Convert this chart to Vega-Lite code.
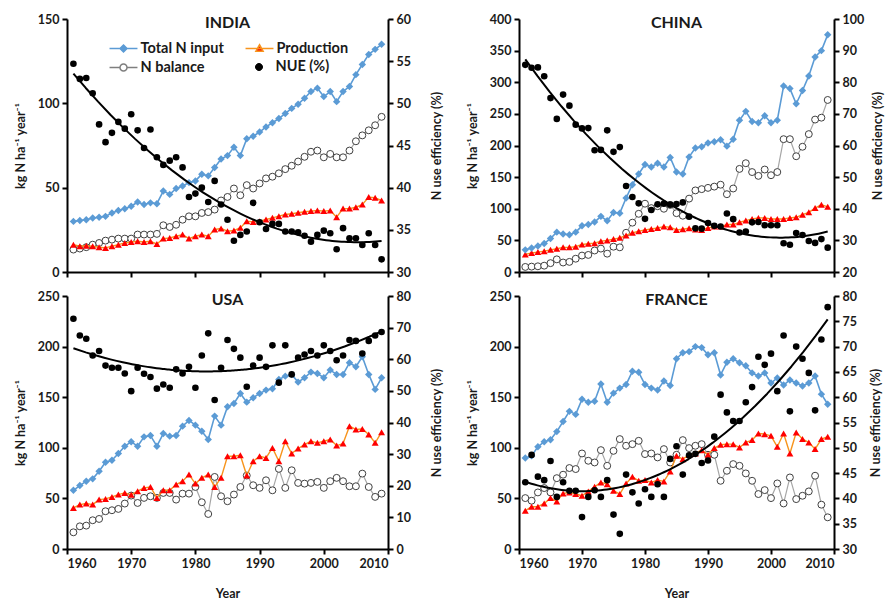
{
"$schema": "https://vega.github.io/schema/vega-lite/v6.json",
"padding": {"left": 14, "top": 13, "right": 2, "bottom": 0},
"datasets": {
"india": [
{"year":1961,"tin":30,"prod":16.2,"bal":13.3,"nue":54.7},{"year":1962,"tin":30.5,"prod":15.3,"bal":13.9,"nue":52.9},{"year":1963,"tin":31,"prod":15.6,"bal":14.7,"nue":53},{"year":1964,"tin":32,"prod":15.3,"bal":16.2,"nue":51.2},{"year":1965,"tin":32.5,"prod":14.7,"bal":17.2,"nue":47.5},{"year":1966,"tin":33,"prod":14.3,"bal":18.6,"nue":45.4},{"year":1967,"tin":35,"prod":15.3,"bal":19.2,"nue":46.5},{"year":1968,"tin":36.5,"prod":16.2,"bal":19.8,"nue":47.8},{"year":1969,"tin":37.5,"prod":17.2,"bal":19.8,"nue":47},{"year":1970,"tin":39,"prod":17.8,"bal":19.8,"nue":48.7},
{"year":1971,"tin":41.5,"prod":18.2,"bal":22.2,"nue":46.8},{"year":1972,"tin":40,"prod":17.8,"bal":22.2,"nue":44.7},{"year":1973,"tin":41,"prod":18.2,"bal":22.2,"nue":46.9},{"year":1974,"tin":40.5,"prod":16.6,"bal":22.6,"nue":43.6},{"year":1975,"tin":48,"prod":19.8,"bal":27.7,"nue":42.7},{"year":1976,"tin":46,"prod":20.2,"bal":26.7,"nue":43.2},{"year":1977,"tin":49.5,"prod":21.2,"bal":28,"nue":43.6},{"year":1978,"tin":51,"prod":22.2,"bal":31,"nue":42.4},{"year":1979,"tin":53,"prod":19.8,"bal":33,"nue":38.9},{"year":1980,"tin":54,"prod":21.2,"bal":33,"nue":39.3},
{"year":1981,"tin":58,"prod":22.2,"bal":35,"nue":40},{"year":1982,"tin":57,"prod":21.2,"bal":35.5,"nue":38.3},{"year":1983,"tin":62,"prod":25.2,"bal":37,"nue":40.8},{"year":1984,"tin":67,"prod":25.8,"bal":42.4,"nue":38},{"year":1985,"tin":69,"prod":24.2,"bal":44.5,"nue":36.2},{"year":1986,"tin":74,"prod":24.6,"bal":49.5,"nue":33.7},{"year":1987,"tin":69,"prod":26.2,"bal":45.5,"nue":34.4},{"year":1988,"tin":79,"prod":30.1,"bal":51.5,"nue":34.8},{"year":1989,"tin":80.5,"prod":29.7,"bal":49.5,"nue":38.2},{"year":1990,"tin":83,"prod":30.1,"bal":52.5,"nue":35.9},
{"year":1991,"tin":86,"prod":31.1,"bal":55.5,"nue":35.1},{"year":1992,"tin":88.5,"prod":32.1,"bal":56.5,"nue":35.7},{"year":1993,"tin":91,"prod":33.1,"bal":58.5,"nue":35.7},{"year":1994,"tin":94,"prod":34.1,"bal":61,"nue":34.8},{"year":1995,"tin":97,"prod":34.5,"bal":63,"nue":34.8},{"year":1996,"tin":99.5,"prod":35.1,"bal":65.5,"nue":34.7},{"year":1997,"tin":103,"prod":35.7,"bal":68.3,"nue":34.3},{"year":1998,"tin":107,"prod":36.1,"bal":71.3,"nue":33.6},{"year":1999,"tin":109,"prod":36.5,"bal":72,"nue":34.4},{"year":2000,"tin":104,"prod":36.1,"bal":68,"nue":34.9},
{"year":2001,"tin":107,"prod":36.5,"bal":70,"nue":34.6},{"year":2002,"tin":101,"prod":32.5,"bal":68,"nue":32.7},{"year":2003,"tin":107,"prod":37.6,"bal":68,"nue":35.2},{"year":2004,"tin":110,"prod":37.6,"bal":72,"nue":34},{"year":2005,"tin":117,"prod":38.4,"bal":77.5,"nue":34},{"year":2006,"tin":123,"prod":40,"bal":81,"nue":33.2},{"year":2007,"tin":129,"prod":44.4,"bal":84,"nue":34.6},{"year":2008,"tin":132,"prod":44,"bal":87,"nue":33.2},{"year":2009,"tin":135,"prod":42.4,"bal":92,"nue":31.5}
],
"china": [
{"year":1961,"tin":35,"prod":27.8,"bal":8,"nue":85.5},{"year":1962,"tin":38,"prod":30,"bal":8.5,"nue":84.6},{"year":1963,"tin":41,"prod":31.5,"bal":9,"nue":84.7},{"year":1964,"tin":45,"prod":33,"bal":10,"nue":81.9},{"year":1965,"tin":53,"prod":35,"bal":14,"nue":75},{"year":1966,"tin":63,"prod":36.7,"bal":20,"nue":68.4},{"year":1967,"tin":60,"prod":39,"bal":15,"nue":76.1},{"year":1968,"tin":59,"prod":39,"bal":16,"nue":72.6},{"year":1969,"tin":63,"prod":40,"bal":21,"nue":66.6},{"year":1970,"tin":73,"prod":43.5,"bal":26,"nue":65.4},
{"year":1971,"tin":75,"prod":44.6,"bal":27,"nue":65.5},{"year":1972,"tin":79,"prod":45.6,"bal":34,"nue":58.5},{"year":1973,"tin":88,"prod":48.8,"bal":37,"nue":58.6},{"year":1974,"tin":81,"prod":49.8,"bal":29,"nue":64.8},{"year":1975,"tin":94,"prod":52,"bal":40,"nue":58},{"year":1976,"tin":93,"prod":54,"bal":39,"nue":59.5},{"year":1977,"tin":117,"prod":57.7,"bal":62,"nue":47.2},{"year":1978,"tin":138,"prod":61.9,"bal":78,"nue":43.7},{"year":1979,"tin":155,"prod":64.5,"bal":92,"nue":41.7},{"year":1980,"tin":170,"prod":66.6,"bal":108,"nue":36.8},
{"year":1981,"tin":166,"prod":68,"bal":101,"nue":39.6},{"year":1982,"tin":172,"prod":69.7,"bal":104,"nue":41.4},{"year":1983,"tin":166,"prod":71.8,"bal":100,"nue":41.6},{"year":1984,"tin":181,"prod":70.8,"bal":106,"nue":41.3},{"year":1985,"tin":158,"prod":66.6,"bal":93,"nue":41.5},{"year":1986,"tin":155,"prod":67.6,"bal":89,"nue":42},{"year":1987,"tin":182,"prod":69.2,"bal":116,"nue":37.5},{"year":1988,"tin":196,"prod":67,"bal":129,"nue":33.8},{"year":1989,"tin":198,"prod":66.6,"bal":131,"nue":33.7},{"year":1990,"tin":204,"prod":69.7,"bal":133,"nue":35.5},
{"year":1991,"tin":206,"prod":71.8,"bal":135,"nue":34.6},{"year":1992,"tin":209,"prod":71.8,"bal":138,"nue":34.4},{"year":1993,"tin":199,"prod":75,"bal":123,"nue":38.5},{"year":1994,"tin":210,"prod":75,"bal":132,"nue":36.7},{"year":1995,"tin":240,"prod":78.6,"bal":163,"nue":32.5},{"year":1996,"tin":254,"prod":81.3,"bal":172,"nue":32.8},{"year":1997,"tin":238,"prod":83.9,"bal":158,"nue":35.7},{"year":1998,"tin":236,"prod":85.5,"bal":152,"nue":35.8},{"year":1999,"tin":247,"prod":85.5,"bal":162,"nue":34.8},{"year":2000,"tin":236,"prod":83.9,"bal":153,"nue":34.8},
{"year":2001,"tin":240,"prod":83.9,"bal":158,"nue":34.8},{"year":2002,"tin":294,"prod":83.9,"bal":210,"nue":29.1},{"year":2003,"tin":290,"prod":85.5,"bal":210,"nue":28.6},{"year":2004,"tin":266,"prod":86.5,"bal":183,"nue":32.3},{"year":2005,"tin":287,"prod":90.7,"bal":198,"nue":31.7},{"year":2006,"tin":310,"prod":94.4,"bal":218,"nue":29.8},{"year":2007,"tin":340,"prod":101,"bal":241,"nue":29.2},{"year":2008,"tin":350,"prod":106.4,"bal":244,"nue":30.4},{"year":2009,"tin":375,"prod":103,"bal":272,"nue":27.7}
],
"usa": [
{"year":1961,"tin":58,"prod":40.6,"bal":16.5,"nue":72.8},{"year":1962,"tin":62.7,"prod":43.9,"bal":22.4,"nue":67.5},{"year":1963,"tin":67,"prod":44.9,"bal":23.1,"nue":66.5},{"year":1964,"tin":69.3,"prod":43.9,"bal":28.4,"nue":61.2},{"year":1965,"tin":76.8,"prod":48.8,"bal":29.7,"nue":62.6},{"year":1966,"tin":85.8,"prod":49.5,"bal":37.3,"nue":58},{"year":1967,"tin":87.7,"prod":51.5,"bal":38.3,"nue":57.3},{"year":1968,"tin":94.3,"prod":53.8,"bal":39.6,"nue":57.3},{"year":1969,"tin":101.6,"prod":55.4,"bal":44.9,"nue":55.5},{"year":1970,"tin":105.9,"prod":53.5,"bal":52.8,"nue":49.9},
{"year":1971,"tin":101.6,"prod":57.1,"bal":45.5,"nue":57.3},{"year":1972,"tin":110.8,"prod":60.4,"bal":50.5,"nue":55.4},{"year":1973,"tin":112.1,"prod":61.3,"bal":52.1,"nue":54.4},{"year":1974,"tin":101.6,"prod":50.5,"bal":50.5,"nue":50.7},{"year":1975,"tin":114.1,"prod":58,"bal":55.4,"nue":52},{"year":1976,"tin":111.5,"prod":58,"bal":55.4,"nue":51},{"year":1977,"tin":112.1,"prod":63.7,"bal":48.8,"nue":56.8},{"year":1978,"tin":121.4,"prod":67,"bal":54.7,"nue":55.5},{"year":1979,"tin":127,"prod":73.5,"bal":54.7,"nue":57.6},{"year":1980,"tin":122.4,"prod":64.6,"bal":61.3,"nue":51},
{"year":1981,"tin":116.4,"prod":70.3,"bal":46.2,"nue":61.2},{"year":1982,"tin":108.2,"prod":73.5,"bal":34.6,"nue":68.2},{"year":1983,"tin":131.3,"prod":61.3,"bal":71.2,"nue":47.1},{"year":1984,"tin":122.4,"prod":70.3,"bal":52.1,"nue":57.3},{"year":1985,"tin":140.5,"prod":91.7,"bal":47.2,"nue":66.1},{"year":1986,"tin":143.8,"prod":91.7,"bal":53.8,"nue":63.3},{"year":1987,"tin":153.7,"prod":92.7,"bal":61.3,"nue":60.5},{"year":1988,"tin":145.1,"prod":72.6,"bal":72.6,"nue":51.3},{"year":1989,"tin":149.4,"prod":86.7,"bal":63,"nue":58},{"year":1990,"tin":153.7,"prod":91.7,"bal":60.4,"nue":60.5},
{"year":1991,"tin":157,"prod":90,"bal":67.9,"nue":57.6},{"year":1992,"tin":158.3,"prod":99.9,"bal":58,"nue":64.4},{"year":1993,"tin":167.5,"prod":86.7,"bal":79.2,"nue":52.6},{"year":1994,"tin":170.8,"prod":106.5,"bal":60.4,"nue":64.4},{"year":1995,"tin":172.5,"prod":94.3,"bal":77.8,"nue":55.2},{"year":1996,"tin":164.9,"prod":99.3,"bal":65.3,"nue":60.5},{"year":1997,"tin":169.2,"prod":103.2,"bal":64.6,"nue":61.5},{"year":1998,"tin":174.8,"prod":106.5,"bal":65.3,"nue":62.6},{"year":1999,"tin":173.5,"prod":104.9,"bal":66.3,"nue":61.2},{"year":2000,"tin":169.2,"prod":106.5,"bal":60.4,"nue":64.4},
{"year":2001,"tin":176.8,"prod":108.2,"bal":67,"nue":62.6},{"year":2002,"tin":172.5,"prod":102.2,"bal":70.3,"nue":59.7},{"year":2003,"tin":172.5,"prod":104.2,"bal":67,"nue":61.2},{"year":2004,"tin":184,"prod":121.4,"bal":62,"nue":66.1},{"year":2005,"tin":180.1,"prod":118.1,"bal":62,"nue":65.8},{"year":2006,"tin":190,"prod":118.7,"bal":74.5,"nue":61.8},{"year":2007,"tin":172.5,"prod":113.1,"bal":61.3,"nue":65.8},{"year":2008,"tin":157.7,"prod":104.9,"bal":51.5,"nue":67.5},{"year":2009,"tin":169.2,"prod":115.4,"bal":54.7,"nue":68.6}
],
"france": [
{"year":1961,"tin":90,"prod":37.8,"bal":50.3,"nue":43.2},{"year":1962,"tin":92,"prod":41.8,"bal":47.7,"nue":48.6},{"year":1963,"tin":101,"prod":41.8,"bal":55.9,"nue":44.3},{"year":1964,"tin":106,"prod":45,"bal":60.2,"nue":43.6},{"year":1965,"tin":108,"prod":50.3,"bal":55.9,"nue":47.4},{"year":1966,"tin":116,"prod":47,"bal":70,"nue":40.3},{"year":1967,"tin":126,"prod":54.9,"bal":73.4,"nue":43.2},{"year":1968,"tin":136,"prod":55.9,"bal":80,"nue":41.5},{"year":1969,"tin":133,"prod":54.3,"bal":79,"nue":41.5},{"year":1970,"tin":148,"prod":52.6,"bal":94.4,"nue":36.3},
{"year":1971,"tin":145,"prod":56.9,"bal":87.2,"nue":40.3},{"year":1972,"tin":146,"prod":61.5,"bal":85.5,"nue":41.6},{"year":1973,"tin":163,"prod":65.8,"bal":97.7,"nue":40.3},{"year":1974,"tin":145,"prod":64.1,"bal":82.2,"nue":43.6},{"year":1975,"tin":154,"prod":57.6,"bal":97,"nue":36.8},{"year":1976,"tin":159,"prod":54.3,"bal":108.6,"nue":33},{"year":1977,"tin":162.5,"prod":64.8,"bal":102,"nue":44.7},{"year":1978,"tin":175.6,"prod":71.4,"bal":103.6,"nue":41.2},{"year":1979,"tin":174.6,"prod":67.4,"bal":106.9,"nue":39},{"year":1980,"tin":162.5,"prod":68.1,"bal":93.8,"nue":41.8},
{"year":1981,"tin":159,"prod":65.8,"bal":94.4,"nue":40.3},{"year":1982,"tin":157,"prod":68.1,"bal":90.5,"nue":42.8},{"year":1983,"tin":166,"prod":66.8,"bal":98.7,"nue":40.3},{"year":1984,"tin":161.5,"prod":76.6,"bal":85.5,"nue":47.8},{"year":1985,"tin":188,"prod":92.1,"bal":93.1,"nue":50.3},{"year":1986,"tin":194,"prod":88.8,"bal":107.6,"nue":44.7},{"year":1987,"tin":195,"prod":93.1,"bal":99.7,"nue":48.5},{"year":1988,"tin":200,"prod":94.4,"bal":102,"nue":48.8},{"year":1989,"tin":199,"prod":97.7,"bal":103.6,"nue":47},{"year":1990,"tin":192,"prod":93.1,"bal":93.1,"nue":47.5},
{"year":1991,"tin":194,"prod":99.7,"bal":93.1,"nue":52.2},{"year":1992,"tin":172,"prod":103,"bal":67.4,"nue":60.5},{"year":1993,"tin":184.5,"prod":103.6,"bal":77.3,"nue":57},{"year":1994,"tin":188,"prod":103.6,"bal":83.9,"nue":55.3},{"year":1995,"tin":184,"prod":100.3,"bal":82.2,"nue":55.3},{"year":1996,"tin":181,"prod":105.3,"bal":74.7,"nue":59},{"year":1997,"tin":174,"prod":107.6,"bal":67.4,"nue":62},{"year":1998,"tin":171,"prod":114.1,"bal":54.3,"nue":68},{"year":1999,"tin":174,"prod":113.5,"bal":58.2,"nue":66.4},{"year":2000,"tin":164,"prod":111.8,"bal":50.3,"nue":68.6},
{"year":2001,"tin":169,"prod":101,"bal":64.8,"nue":61.2},{"year":2002,"tin":162,"prod":114.1,"bal":45,"nue":72.2},{"year":2003,"tin":167,"prod":94.4,"bal":70.7,"nue":57.2},{"year":2004,"tin":164,"prod":115.1,"bal":49.3,"nue":70},{"year":2005,"tin":161,"prod":108.6,"bal":52.6,"nue":67.6},{"year":2006,"tin":164,"prod":105.3,"bal":56.9,"nue":64.8},{"year":2007,"tin":171,"prod":98.7,"bal":72.4,"nue":57.4},{"year":2008,"tin":153,"prod":108.6,"bal":43.8,"nue":71.4},{"year":2009,"tin":143,"prod":110.9,"bal":31.3,"nue":77.8}
]
},
"columns": 2,
"spacing": {"row": 11, "column": 23},
"concat": [
{
 "width": 321, "height": 253,
 "title": {"text": "INDIA", "offset": -18},
 "data": {"name": "india"},
 "encoding": {"x": {"field": "year", "type": "quantitative", "scale": {"domain": [1960, 2010], "nice": false}, "axis": {"values": [1960,1970,1980,1990,2000,2010], "labels": false, "title": null}}},
 "layer": [
  {
   "transform": [{"fold": ["tin", "prod", "bal"], "as": ["s", "v"]}],
   "encoding": {"y": {"field": "v", "type": "quantitative", "scale": {"domain": [0, 150], "nice": false, "zero": false}, "axis": {"orient": "left", "values": [0,50,100,150], "title": "kg N ha⁻¹ year⁻¹", "titlePadding": 10}}},
   "layer": [
    {"transform": [{"filter": "datum.s === 'bal'"}], "mark": {"type": "line", "color": "#a6a6a6", "strokeWidth": 1.2}},
    {"transform": [{"filter": "datum.s === 'bal'"}], "mark": {"type": "point", "shape": "circle", "filled": true, "fill": "#ffffff", "stroke": "#404040", "strokeWidth": 1, "size": 48, "opacity": 1}},
    {"transform": [{"filter": "datum.s === 'prod'"}], "mark": {"type": "line", "color": "#f7941d", "strokeWidth": 1.4}},
    {"transform": [{"filter": "datum.s === 'prod'"}], "mark": {"type": "point", "shape": "triangle-up", "filled": true, "color": "#ff0000", "size": 48, "opacity": 1}},
    {"transform": [{"filter": "datum.s === 'tin'"}], "mark": {"type": "line", "color": "#5b9bd5", "strokeWidth": 1.6}},
    {"transform": [{"filter": "datum.s === 'tin'"}], "mark": {"type": "point", "shape": "diamond", "filled": true, "color": "#5b9bd5", "size": 55, "opacity": 1}}
   ]
  },
  {
   "encoding": {"y": {"field": "nue", "type": "quantitative", "scale": {"domain": [30, 60], "nice": false, "zero": false}, "axis": {"orient": "right", "values": [30,35,40,45,50,55,60], "title": "N use efficiency (%)", "titleAngle": 270, "titleBaseline": "top", "titlePadding": 20}}},
   "layer": [
    {"mark": {"type": "circle", "color": "#000000", "size": 44, "opacity": 1}},
    {"transform": [{"regression": "nue", "on": "year", "method": "poly", "order": 2}], "mark": {"type": "line", "color": "#000000", "strokeWidth": 2}}
   ]
  },
  {"transform": [{"filter": "false"}], "mark": {"type": "point", "shape": "M-1.47,0L1.47,0M0,-0.37L0.37,0L0,0.37L-0.37,0Z", "filled": true, "fill": "#5b9bd5", "stroke": "#5b9bd5", "strokeWidth": 1.5, "opacity": 1},
   "encoding": {"size": {"datum": "Total N input", "type": "nominal", "scale": {"type": "ordinal", "domain": ["Total N input"], "range": [361]}, "legend": {"orient": "none", "legendX": 46, "legendY": 19, "title": null, "labelFont": "Lato", "labelFontSize": 14.5, "labelFontWeight": "bold", "labelColor": "#1a1a1a", "labelOffset": 6.5, "symbolStrokeWidth": 1.5, "symbolOpacity": 1}}}},
  {"transform": [{"filter": "false"}], "mark": {"type": "point", "shape": "M-1.47,0L1.47,0M0,-0.4L0.38,0.28L-0.38,0.28Z", "filled": true, "fill": "#ff0000", "stroke": "#f7941d", "strokeWidth": 1.5, "opacity": 1},
   "encoding": {"size": {"datum": "Production", "type": "nominal", "scale": {"type": "ordinal", "domain": ["Production"], "range": [361]}, "legend": {"orient": "none", "legendX": 182, "legendY": 19, "title": null, "labelFont": "Lato", "labelFontSize": 14.5, "labelFontWeight": "bold", "labelColor": "#1a1a1a", "labelOffset": 6.5, "symbolStrokeWidth": 1.5, "symbolOpacity": 1}}}},
  {"transform": [{"filter": "false"}], "mark": {"type": "point", "shape": "M-1.47,0L-0.37,0M0.37,0L1.47,0M-0.37,0A0.37,0.37,0,1,0,0.37,0A0.37,0.37,0,1,0,-0.37,0Z", "filled": true, "fill": "#ffffff", "stroke": "#7f7f7f", "strokeWidth": 1.5, "opacity": 1},
   "encoding": {"size": {"datum": "N balance", "type": "nominal", "scale": {"type": "ordinal", "domain": ["N balance"], "range": [361]}, "legend": {"orient": "none", "legendX": 46, "legendY": 38, "title": null, "labelFont": "Lato", "labelFontSize": 14.5, "labelFontWeight": "bold", "labelColor": "#1a1a1a", "labelOffset": 6.5, "symbolStrokeWidth": 1.5, "symbolOpacity": 1}}}},
  {"transform": [{"filter": "false"}], "mark": {"type": "point", "shape": "M-0.37,0A0.37,0.37,0,1,0,0.37,0A0.37,0.37,0,1,0,-0.37,0Z", "filled": true, "fill": "#000000", "stroke": "#000000", "strokeWidth": 1, "opacity": 1},
   "encoding": {"size": {"datum": "NUE (%)", "type": "nominal", "scale": {"type": "ordinal", "domain": ["NUE (%)"], "range": [361]}, "legend": {"orient": "none", "legendX": 182, "legendY": 38, "title": null, "labelFont": "Lato", "labelFontSize": 14.5, "labelFontWeight": "bold", "labelColor": "#1a1a1a", "labelOffset": 6.5, "symbolStrokeWidth": 1, "symbolOpacity": 1}}}}
 ],
 "resolve": {"scale": {"y": "independent", "size": "independent"}, "legend": {"size": "independent"}}
},
{
 "width": 315, "height": 253,
 "title": {"text": "CHINA", "offset": -18},
 "data": {"name": "china"},
 "encoding": {"x": {"field": "year", "type": "quantitative", "scale": {"domain": [1960, 2010], "nice": false}, "axis": {"values": [1960,1970,1980,1990,2000,2010], "labels": false, "title": null}}},
 "layer": [
  {
   "transform": [{"fold": ["tin", "prod", "bal"], "as": ["s", "v"]}],
   "encoding": {"y": {"field": "v", "type": "quantitative", "scale": {"domain": [0, 400], "nice": false, "zero": false}, "axis": {"orient": "left", "values": [0,50,100,150,200,250,300,350,400], "title": "kg N ha⁻¹ year⁻¹", "titlePadding": 10}}},
   "layer": [
    {"transform": [{"filter": "datum.s === 'bal'"}], "mark": {"type": "line", "color": "#a6a6a6", "strokeWidth": 1.2}},
    {"transform": [{"filter": "datum.s === 'bal'"}], "mark": {"type": "point", "shape": "circle", "filled": true, "fill": "#ffffff", "stroke": "#404040", "strokeWidth": 1, "size": 48, "opacity": 1}},
    {"transform": [{"filter": "datum.s === 'prod'"}], "mark": {"type": "line", "color": "#f7941d", "strokeWidth": 1.4}},
    {"transform": [{"filter": "datum.s === 'prod'"}], "mark": {"type": "point", "shape": "triangle-up", "filled": true, "color": "#ff0000", "size": 48, "opacity": 1}},
    {"transform": [{"filter": "datum.s === 'tin'"}], "mark": {"type": "line", "color": "#5b9bd5", "strokeWidth": 1.6}},
    {"transform": [{"filter": "datum.s === 'tin'"}], "mark": {"type": "point", "shape": "diamond", "filled": true, "color": "#5b9bd5", "size": 55, "opacity": 1}}
   ]
  },
  {
   "encoding": {"y": {"field": "nue", "type": "quantitative", "scale": {"domain": [20, 100], "nice": false, "zero": false}, "axis": {"orient": "right", "values": [20,30,40,50,60,70,80,90,100], "title": "N use efficiency (%)", "titleAngle": 270, "titleBaseline": "top", "titlePadding": 8}}},
   "layer": [
    {"mark": {"type": "circle", "color": "#000000", "size": 44, "opacity": 1}},
    {"transform": [{"regression": "nue", "on": "year", "method": "poly", "order": 2}], "mark": {"type": "line", "color": "#000000", "strokeWidth": 2}}
   ]
  }
 ],
 "resolve": {"scale": {"y": "independent"}}
},
{
 "width": 321, "height": 253,
 "title": {"text": "USA", "offset": -18},
 "data": {"name": "usa"},
 "encoding": {"x": {"field": "year", "type": "quantitative", "scale": {"domain": [1960, 2010], "nice": false}, "axis": {"values": [1960,1970,1980,1990,2000,2010], "format": "d", "title": "Year", "titlePadding": 18}}},
 "layer": [
  {
   "transform": [{"fold": ["tin", "prod", "bal"], "as": ["s", "v"]}],
   "encoding": {"y": {"field": "v", "type": "quantitative", "scale": {"domain": [0, 250], "nice": false, "zero": false}, "axis": {"orient": "left", "values": [0,50,100,150,200,250], "title": "kg N ha⁻¹ year⁻¹", "titlePadding": 10}}},
   "layer": [
    {"transform": [{"filter": "datum.s === 'bal'"}], "mark": {"type": "line", "color": "#a6a6a6", "strokeWidth": 1.2}},
    {"transform": [{"filter": "datum.s === 'bal'"}], "mark": {"type": "point", "shape": "circle", "filled": true, "fill": "#ffffff", "stroke": "#404040", "strokeWidth": 1, "size": 48, "opacity": 1}},
    {"transform": [{"filter": "datum.s === 'prod'"}], "mark": {"type": "line", "color": "#f7941d", "strokeWidth": 1.4}},
    {"transform": [{"filter": "datum.s === 'prod'"}], "mark": {"type": "point", "shape": "triangle-up", "filled": true, "color": "#ff0000", "size": 48, "opacity": 1}},
    {"transform": [{"filter": "datum.s === 'tin'"}], "mark": {"type": "line", "color": "#5b9bd5", "strokeWidth": 1.6}},
    {"transform": [{"filter": "datum.s === 'tin'"}], "mark": {"type": "point", "shape": "diamond", "filled": true, "color": "#5b9bd5", "size": 55, "opacity": 1}}
   ]
  },
  {
   "encoding": {"y": {"field": "nue", "type": "quantitative", "scale": {"domain": [0, 80], "nice": false, "zero": false}, "axis": {"orient": "right", "values": [0,10,20,30,40,50,60,70,80], "title": "N use efficiency (%)", "titleAngle": 270, "titleBaseline": "top", "titlePadding": 20}}},
   "layer": [
    {"mark": {"type": "circle", "color": "#000000", "size": 44, "opacity": 1}},
    {"transform": [{"regression": "nue", "on": "year", "method": "poly", "order": 2}], "mark": {"type": "line", "color": "#000000", "strokeWidth": 2}}
   ]
  }
 ],
 "resolve": {"scale": {"y": "independent"}}
},
{
 "width": 315, "height": 253,
 "title": {"text": "FRANCE", "offset": -18},
 "data": {"name": "france"},
 "encoding": {"x": {"field": "year", "type": "quantitative", "scale": {"domain": [1960, 2010], "nice": false}, "axis": {"values": [1960,1970,1980,1990,2000,2010], "format": "d", "title": "Year", "titlePadding": 18}}},
 "layer": [
  {
   "transform": [{"fold": ["tin", "prod", "bal"], "as": ["s", "v"]}],
   "encoding": {"y": {"field": "v", "type": "quantitative", "scale": {"domain": [0, 250], "nice": false, "zero": false}, "axis": {"orient": "left", "values": [0,50,100,150,200,250], "title": "kg N ha⁻¹ year⁻¹", "titlePadding": 10}}},
   "layer": [
    {"transform": [{"filter": "datum.s === 'bal'"}], "mark": {"type": "line", "color": "#a6a6a6", "strokeWidth": 1.2}},
    {"transform": [{"filter": "datum.s === 'bal'"}], "mark": {"type": "point", "shape": "circle", "filled": true, "fill": "#ffffff", "stroke": "#404040", "strokeWidth": 1, "size": 48, "opacity": 1}},
    {"transform": [{"filter": "datum.s === 'prod'"}], "mark": {"type": "line", "color": "#f7941d", "strokeWidth": 1.4}},
    {"transform": [{"filter": "datum.s === 'prod'"}], "mark": {"type": "point", "shape": "triangle-up", "filled": true, "color": "#ff0000", "size": 48, "opacity": 1}},
    {"transform": [{"filter": "datum.s === 'tin'"}], "mark": {"type": "line", "color": "#5b9bd5", "strokeWidth": 1.6}},
    {"transform": [{"filter": "datum.s === 'tin'"}], "mark": {"type": "point", "shape": "diamond", "filled": true, "color": "#5b9bd5", "size": 55, "opacity": 1}}
   ]
  },
  {
   "encoding": {"y": {"field": "nue", "type": "quantitative", "scale": {"domain": [30, 80], "nice": false, "zero": false}, "axis": {"orient": "right", "values": [30,35,40,45,50,55,60,65,70,75,80], "title": "N use efficiency (%)", "titleAngle": 270, "titleBaseline": "top", "titlePadding": 13}}},
   "layer": [
    {"mark": {"type": "circle", "color": "#000000", "size": 44, "opacity": 1}},
    {"transform": [{"regression": "nue", "on": "year", "method": "poly", "order": 2}], "mark": {"type": "line", "color": "#000000", "strokeWidth": 2}}
   ]
  }
 ],
 "resolve": {"scale": {"y": "independent"}}
}
],
"config": {
 "view": {"stroke": null},
 "font": "Lato",
 "axis": {"grid": false, "domainColor": "#000000", "domainWidth": 2, "tickColor": "#000000", "tickWidth": 2, "tickSize": 5, "labelFont": "Lato", "labelFontSize": 12.5, "labelFontWeight": "bold", "labelColor": "#1a1a1a", "labelPadding": 3, "titleFont": "Lato", "titleFontSize": 12.5, "titleFontWeight": "bold", "titleColor": "#1a1a1a"},
 "title": {"font": "Lato", "fontSize": 16, "fontWeight": "bold", "color": "#1a1a1a"},
 "line": {"strokeJoin": "round"}
}
}
